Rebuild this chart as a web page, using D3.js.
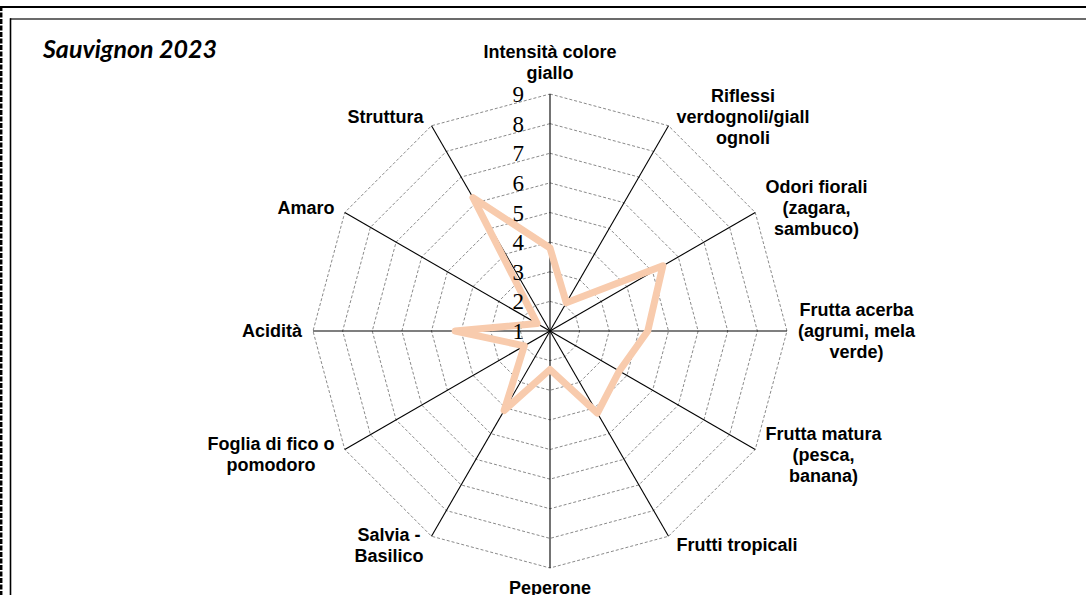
<!DOCTYPE html>
<html>
<head>
<meta charset="utf-8">
<script src="https://cdn.jsdelivr.net/npm/d3@7"></script>
<style>
  html, body { margin: 0; padding: 0; background: #fff; }
  svg { display: block; }
</style>
</head>
<body>
<svg id="chart" width="1086" height="595"></svg>
<script>
// Sensory profile – one value per descriptor, clockwise from the top
const categories = [
  ["Intensità colore", "giallo"],
  ["Riflessi", "verdognoli/giall", "ognoli"],
  ["Odori fiorali", "(zagara,", "sambuco)"],
  ["Frutta acerba", "(agrumi, mela", "verde)"],
  ["Frutta matura", "(pesca,", "banana)"],
  ["Frutti tropicali"],
  ["Peperone"],
  ["Salvia -", "Basilico"],
  ["Foglia di fico o", "pomodoro"],
  ["Acidità"],
  ["Amaro"],
  ["Struttura"]
];
const values = [3.8, 2.1, 5.4, 4.3, 3.7, 4.2, 2.3, 4.1, 2.0, 4.2, 1.5, 6.2];
const tickValues = [1, 2, 3, 4, 5, 6, 7, 8, 9];
const title = "Sauvignon 2023";

const svg = d3.select("#chart");
const W = 1086, H = 595;

// Frame lines
svg.append("line").attr("x1", 0).attr("x2", W).attr("y1", 7).attr("y2", 7)
  .attr("stroke", "#000").attr("stroke-width", 2);
svg.append("line").attr("x1", 1.2).attr("x2", 1.2).attr("y1", 6).attr("y2", H)
  .attr("stroke", "#000").attr("stroke-width", 2.5).attr("stroke-dasharray", "5,1.5");
svg.append("line").attr("x1", 10).attr("x2", W).attr("y1", 19).attr("y2", 19)
  .attr("stroke", "#3a3a3a").attr("stroke-width", 1.5);
svg.append("line").attr("x1", 10.5).attr("x2", 10.5).attr("y1", 18.3).attr("y2", H)
  .attr("stroke", "#000").attr("stroke-width", 1.6);

// Title
svg.append("text")
  .attr("x", 43).attr("y", 58)
  .attr("font-family", "Lato, 'Open Sans', sans-serif")
  .attr("font-weight", "bold").attr("font-style", "italic")
  .attr("font-size", 25)
  .attr("fill", "#000")
  .text(title);

// Radar geometry
const cx = 550, cy = 331;
const n = categories.length;
const r = d3.scaleLinear().domain([d3.min(tickValues), d3.max(tickValues)]).range([0, 237]);
const angle = d3.scaleLinear().domain([0, n]).range([0, 2 * Math.PI]);
const px = (i, v) => cx + r(v) * Math.sin(angle(i));
const py = (i, v) => cy - r(v) * Math.cos(angle(i));

const g = svg.append("g");

// Grid rings (dashed polygons)
const ringLine = d3.line();
g.selectAll("path.ring")
  .data(tickValues.slice(1))
  .join("path")
  .attr("class", "ring")
  .attr("d", v => ringLine(d3.range(n).map(i => [px(i, v), py(i, v)])) + "Z")
  .attr("fill", "none")
  .attr("stroke", "#8a8a8a")
  .attr("stroke-width", 1)
  .attr("stroke-dasharray", "3,2");

// Spokes
const vMax = d3.max(tickValues);
g.selectAll("line.spoke")
  .data(d3.range(n))
  .join("line")
  .attr("class", "spoke")
  .attr("x1", cx).attr("y1", cy)
  .attr("x2", i => px(i, vMax)).attr("y2", i => py(i, vMax))
  .attr("stroke", "#000")
  .attr("stroke-width", 1.1);

// Series outline
const series = d3.lineRadial()
  .angle((d, i) => angle(i))
  .radius(d => r(d))
  .curve(d3.curveLinearClosed);
g.append("path")
  .attr("transform", `translate(${cx},${cy})`)
  .attr("d", series(values))
  .attr("fill", "none")
  .attr("stroke", "#F8CBAD")
  .attr("stroke-width", 7)
  .attr("stroke-linejoin", "round");

// Value axis labels along the top spoke
g.selectAll("text.tick")
  .data(tickValues)
  .join("text")
  .attr("class", "tick")
  .attr("x", cx - 26)
  .attr("y", v => cy - r(v))
  .attr("dy", "0.35em")
  .attr("text-anchor", "end")
  .attr("font-family", "'Liberation Serif', 'Times New Roman', serif")
  .attr("font-size", 23)
  .attr("fill", "#000")
  .text(d => d);

// Category labels
const lineH = 21;
categories.forEach((lines, i) => {
  const a = angle(i);
  const s = Math.sin(a), c = Math.cos(a);
  const ex = px(i, vMax), ey = py(i, vMax);
  const t = g.append("text")
    .attr("font-family", "'Liberation Sans', Arial, sans-serif")
    .attr("font-weight", "bold")
    .attr("font-size", 18)
    .attr("fill", "#000")
    .attr("text-anchor", "middle");
  lines.forEach(ln => t.append("tspan").text(ln));
  const w = d3.max(t.selectAll("tspan").nodes(), nd => nd.getComputedTextLength());
  let bx, firstY;
  if (Math.abs(s) < 1e-6) {
    bx = ex;
    if (c > 0) firstY = ey - 21 - (lines.length - 1) * lineH;
    else firstY = ey + 20;
  } else {
    const gap = 5 + 6 * Math.abs(s);
    bx = ex + Math.sign(s) * (gap + w / 2);
    const centerY = ey - 10 * c;
    firstY = centerY - (lines.length - 1) * lineH / 2;
  }
  t.selectAll("tspan")
    .attr("x", bx)
    .attr("y", (d, k) => firstY + k * lineH)
    .attr("dy", "0.35em");
});
</script>
</body>
</html>
